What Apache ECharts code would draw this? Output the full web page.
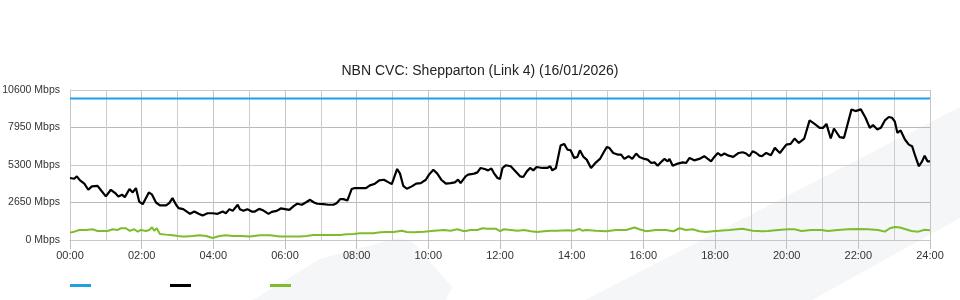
<!DOCTYPE html>
<html>
<head>
<meta charset="utf-8">
<title>NBN CVC: Shepparton (Link 4)</title>
<script src="https://cdn.jsdelivr.net/npm/echarts@6/dist/echarts.min.js"></script>
<style>
  html, body { margin: 0; padding: 0; background: #fff; }
  #chart { width: 960px; height: 300px; }
</style>
</head>
<body>
<div id="chart"></div>
<script>
// y axis ticks (Mbps) and x axis range (hours of day)
var yTicks = [0, 2650, 5300, 7950, 10600];
var hourLabels = ['00:00', '02:00', '04:00', '06:00', '08:00', '10:00', '12:00',
                  '14:00', '16:00', '18:00', '20:00', '22:00', '24:00'];

// link capacity (flat)
var capacity = [[0, 10000], [24, 10000]];

// download traffic, [hour, Mbps]
var download = [
  [0,4380],[0.12,4330],[0.19,4500],[0.28,4210],[0.4,3980],[0.51,3550],[0.61,3790],[0.77,3830],
  [0.87,3500],[1.0,3080],[1.14,3550],[1.28,3270],[1.35,3080],[1.45,3200],[1.53,3030],[1.66,3600],
  [1.75,3360],[1.84,3670],[1.93,2720],[2.03,2530],[2.2,3360],[2.29,3200],[2.4,2650],[2.51,2440],
  [2.68,2440],[2.77,2600],[2.86,2960],[2.96,2490],[3.03,2250],[3.16,2180],[3.26,2010],[3.35,1850],
  [3.47,2010],[3.59,1850],[3.7,1730],[3.84,1890],[3.98,1890],[4.12,1850],[4.26,2010],[4.35,1890],
  [4.45,2180],[4.54,2060],[4.68,2490],[4.74,2180],[4.84,2060],[4.95,2180],[5.07,2010],[5.16,2010],
  [5.28,2200],[5.4,2080],[5.54,1850],[5.63,1990],[5.77,2060],[5.88,2230],[6.0,2180],[6.12,2130],
  [6.25,2410],[6.34,2560],[6.47,2490],[6.59,2670],[6.7,2840],[6.81,2650],[6.9,2560],[7.07,2530],
  [7.21,2490],[7.35,2490],[7.44,2600],[7.54,2890],[7.63,2890],[7.74,2790],[7.86,3600],[7.95,3670],
  [8.09,3670],[8.26,3670],[8.37,3860],[8.51,3980],[8.63,4210],[8.76,4260],[8.88,4090],[8.98,3950],
  [9.13,5020],[9.21,4690],[9.3,3830],[9.4,3620],[9.54,3790],[9.66,3980],[9.79,4020],[9.93,4260],
  [10.02,4620],[10.14,4970],[10.25,4690],[10.36,4260],[10.49,3980],[10.62,4020],[10.74,4070],[10.83,4260],
  [10.9,4020],[11.04,4500],[11.11,4620],[11.28,4690],[11.37,4780],[11.46,5090],[11.57,5020],[11.67,4920],
  [11.76,5060],[11.83,4730],[11.93,4380],[12.0,4310],[12.07,5090],[12.16,5280],[12.3,5210],[12.39,4970],
  [12.56,4500],[12.65,4450],[12.75,4850],[12.84,5090],[12.93,4920],[13.02,5160],[13.18,5090],[13.32,5090],
  [13.4,5210],[13.46,4920],[13.56,5090],[13.69,6670],[13.79,6790],[13.88,6390],[13.97,6340],[14.07,5800],
  [14.16,5870],[14.23,6340],[14.33,5870],[14.42,5680],[14.54,5090],[14.68,5490],[14.79,5730],[14.91,6270],
  [14.98,6560],[15.05,6510],[15.16,6150],[15.28,6040],[15.38,6040],[15.47,5730],[15.59,5920],[15.69,5730],
  [15.8,6110],[15.89,5870],[16.03,5730],[16.12,5680],[16.22,5440],[16.31,5490],[16.4,5250],[16.49,5490],
  [16.59,5730],[16.68,5560],[16.73,5730],[16.82,5250],[16.96,5400],[17.1,5490],[17.19,5440],[17.29,5800],
  [17.42,5630],[17.56,5730],[17.7,5920],[17.8,5730],[17.89,5560],[17.98,5870],[18.08,6150],[18.17,5960],
  [18.26,6110],[18.38,5960],[18.51,5870],[18.66,6150],[18.77,6200],[18.87,6110],[18.96,5920],[19.05,6270],
  [19.15,6150],[19.24,5960],[19.31,5920],[19.43,6150],[19.56,5990],[19.67,6510],[19.81,6150],[19.99,6740],
  [20.11,6790],[20.22,7170],[20.34,6860],[20.49,7170],[20.64,8450],[20.78,8210],[20.92,7930],[21.02,7930],
  [21.11,8210],[21.23,7170],[21.32,7880],[21.48,7270],[21.6,7220],[21.81,9230],[21.92,9110],[22.07,9230],
  [22.2,8640],[22.32,7930],[22.41,8120],[22.53,7810],[22.63,7930],[22.74,8450],[22.85,8690],[22.94,8640],
  [23.02,8360],[23.09,7570],[23.18,7740],[23.3,7100],[23.41,6740],[23.5,6630],[23.59,5920],[23.69,5210],
  [23.78,5560],[23.85,5960],[23.93,5560],[24,5560]
];

// upload traffic, [hour, Mbps]
var upload = [
  [0,520],[0.12,590],[0.26,710],[0.45,710],[0.63,760],[0.77,640],[0.91,640],[1.05,640],[1.19,760],
  [1.33,710],[1.42,830],[1.56,830],[1.67,640],[1.79,760],[1.89,590],[1.98,710],[2.12,640],[2.21,710],
  [2.29,900],[2.35,660],[2.42,830],[2.51,430],[2.68,380],[2.87,330],[3.01,280],[3.14,240],[3.24,240],
  [3.42,280],[3.61,330],[3.8,280],[3.98,140],[4.17,280],[4.35,330],[4.54,280],[4.8,280],[5.02,240],
  [5.3,330],[5.58,330],[5.86,240],[6.14,240],[6.42,240],[6.6,280],[6.79,350],[7.07,350],[7.35,350],
  [7.54,350],[7.72,400],[7.91,430],[8.09,470],[8.28,470],[8.47,470],[8.65,540],[8.84,570],[9.03,570],
  [9.26,660],[9.4,570],[9.6,540],[9.88,590],[10.16,660],[10.44,710],[10.62,660],[10.81,760],[11.0,620],
  [11.18,710],[11.37,710],[11.51,830],[11.65,800],[11.88,800],[12.0,620],[12.11,760],[12.3,710],
  [12.49,660],[12.67,710],[12.86,620],[13.04,570],[13.23,620],[13.41,660],[13.6,660],[13.88,690],
  [14.07,660],[14.21,780],[14.3,660],[14.4,710],[14.68,660],[14.96,620],[15.24,710],[15.52,710],
  [15.75,880],[15.89,760],[16.08,620],[16.35,710],[16.63,710],[16.84,620],[17.01,830],[17.19,710],
  [17.38,760],[17.56,620],[17.75,570],[17.94,620],[18.12,660],[18.4,710],[18.77,800],[19.05,660],
  [19.31,620],[19.48,640],[19.76,710],[20.04,760],[20.22,760],[20.41,640],[20.69,710],[20.97,710],
  [21.15,640],[21.43,710],[21.71,760],[21.99,780],[22.27,760],[22.55,710],[22.74,590],[22.88,830],
  [23.02,920],[23.16,880],[23.3,780],[23.48,640],[23.67,590],[23.85,730],[24,690]
];

var chart = echarts.init(document.getElementById('chart'), null, { renderer: 'canvas' });

var option = {
  animation: false,
  backgroundColor: '#fff',
  textStyle: { fontFamily: '"Liberation Sans", Arial, sans-serif' },
  title: {
    text: 'NBN CVC: Shepparton (Link 4) (16/01/2026)',
    left: 'center',
    top: 59,
    textStyle: { fontSize: 14, fontWeight: 'normal', color: '#222' }
  },
  // faint background shapes behind the plot
  graphic: [
    {
      type: 'polygon', z: -10, silent: true,
      shape: { points: [[253,300],[320,259],[398,238],[412,241],[452,287],[446,300]] },
      style: { fill: '#f5f6f8' }
    },
    {
      type: 'polygon', z: -10, silent: true,
      shape: { points: [[585,300],[960,107],[960,218],[812,300]] },
      style: { fill: '#f5f6f8' }
    }
  ],
  legend: {
    left: 65,
    top: 279,
    icon: 'rect',
    itemWidth: 21,
    itemHeight: 3,
    itemGap: 79,
    formatter: function(){ return ''; },
    selectedMode: false,
    data: ['Capacity', 'Download', 'Upload']
  },
  grid: { left: 70, right: 30, top: 90, bottom: 60, outerBoundsMode: 'none' },
  xAxis: {
    type: 'value',
    min: 0,
    max: 24,
    interval: 2,
    axisLine: { show: true, lineStyle: { color: '#c8c8c8' } },
    axisTick: { show: true, length: 9, lineStyle: { color: '#c0c0c0' } },
    axisLabel: {
      margin: 10,
      fontSize: 11,
      color: '#333',
      formatter: function(v){ return hourLabels[v / 2]; }
    },
    splitLine: { show: true, lineStyle: { color: '#c4c4c4' } },
    minorTick: { show: false, splitNumber: 2 },
    minorSplitLine: { show: true, lineStyle: { color: '#cccccc' } }
  },
  yAxis: {
    type: 'value',
    min: yTicks[0],
    max: yTicks[yTicks.length - 1],
    interval: yTicks[1] - yTicks[0],
    axisLine: { show: true, lineStyle: { color: '#c8c8c8' } },
    axisTick: { show: false },
    axisLabel: {
      margin: 10,
      fontSize: 10.5,
      color: '#333',
      formatter: function(v){ return v + ' Mbps'; }
    },
    splitLine: {
      show: true,
      lineStyle: { color: ['#cccccc', '#b9b9b9', '#cccccc', '#b9b9b9', '#cccccc'] }
    }
  },
  series: [
    {
      name: 'Capacity', type: 'line', data: capacity,
      showSymbol: false, color: '#1ea1e3',
      lineStyle: { width: 2, color: '#1ea1e3' }
    },
    {
      name: 'Download', type: 'line', data: download,
      showSymbol: false, color: '#000',
      lineStyle: { width: 2.2, color: '#000' }
    },
    {
      name: 'Upload', type: 'line', data: upload,
      showSymbol: false, color: '#7dbd2c',
      lineStyle: { width: 2, color: '#7dbd2c' }
    }
  ]
};

chart.setOption(option);
</script>
</body>
</html>
